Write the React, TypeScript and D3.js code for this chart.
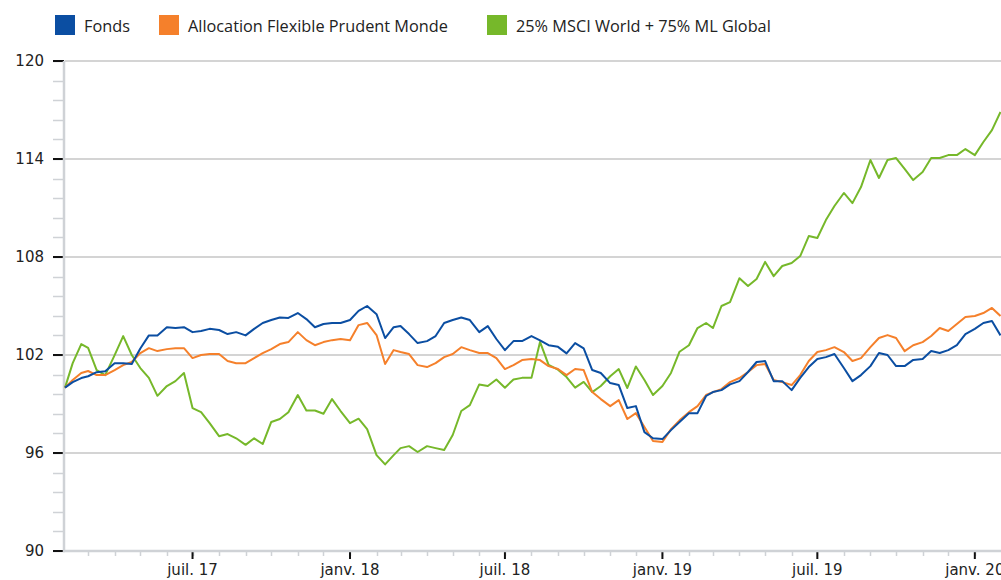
import React, { useEffect, useRef } from 'react';
import * as d3 from 'd3';

// dates sampled ~every 10 days (1st, 11th, 21st of each month)
const dates = [
  '2017-02-02', '2017-02-11', '2017-02-21',
  '2017-03-01', '2017-03-11', '2017-03-21',
  '2017-04-01', '2017-04-11', '2017-04-21',
  '2017-05-01', '2017-05-11', '2017-05-21',
  '2017-06-01', '2017-06-11', '2017-06-21',
  '2017-07-01', '2017-07-11', '2017-07-21',
  '2017-08-01', '2017-08-11', '2017-08-21',
  '2017-09-01', '2017-09-11', '2017-09-21',
  '2017-10-01', '2017-10-11', '2017-10-21',
  '2017-11-01', '2017-11-11', '2017-11-21',
  '2017-12-01', '2017-12-11', '2017-12-21',
  '2018-01-01', '2018-01-11', '2018-01-21',
  '2018-02-01', '2018-02-11', '2018-02-21',
  '2018-03-01', '2018-03-11', '2018-03-21',
  '2018-04-01', '2018-04-11', '2018-04-21',
  '2018-05-01', '2018-05-11', '2018-05-21',
  '2018-06-01', '2018-06-11', '2018-06-21',
  '2018-07-01', '2018-07-11', '2018-07-21',
  '2018-08-01', '2018-08-11', '2018-08-21',
  '2018-09-01', '2018-09-11', '2018-09-21',
  '2018-10-01', '2018-10-11', '2018-10-21',
  '2018-11-01', '2018-11-11', '2018-11-21',
  '2018-12-01', '2018-12-11', '2018-12-21',
  '2019-01-01', '2019-01-11', '2019-01-21',
  '2019-02-01', '2019-02-11', '2019-02-21',
  '2019-03-01', '2019-03-11', '2019-03-21',
  '2019-04-01', '2019-04-11', '2019-04-21',
  '2019-05-01', '2019-05-11', '2019-05-21',
  '2019-06-01', '2019-06-11', '2019-06-21',
  '2019-07-01', '2019-07-11', '2019-07-21',
  '2019-08-01', '2019-08-11', '2019-08-21',
  '2019-09-01', '2019-09-11', '2019-09-21',
  '2019-10-01', '2019-10-11', '2019-10-21',
  '2019-11-01', '2019-11-11', '2019-11-21',
  '2019-12-01', '2019-12-11', '2019-12-21',
  '2020-01-01', '2020-01-11', '2020-01-21', '2020-01-31'
];

const fonds = [
  100.0, 100.34, 100.59,
  100.7, 100.95, 101.0,
  101.5, 101.5, 101.45,
  102.4, 103.2, 103.2,
  103.7, 103.65, 103.7,
  103.4, 103.47, 103.6,
  103.53, 103.28, 103.4,
  103.2, 103.6, 103.96,
  104.14, 104.3, 104.27,
  104.57, 104.2, 103.7,
  103.9, 103.96, 103.96,
  104.14, 104.7, 105.0,
  104.5, 103.04, 103.7,
  103.77, 103.28, 102.73,
  102.85, 103.16, 103.96,
  104.14, 104.3, 104.14,
  103.4, 103.77, 102.98,
  102.3, 102.85, 102.85,
  103.16, 102.9, 102.6,
  102.5, 102.1, 102.73,
  102.4, 101.08, 100.9,
  100.28, 100.16, 98.75,
  98.87, 97.28, 96.9,
  96.85, 97.4, 97.9,
  98.44, 98.44, 99.49,
  99.73, 99.85, 100.2,
  100.4, 100.96, 101.57,
  101.63, 100.4, 100.4,
  99.85, 100.6, 101.26,
  101.75, 101.87, 102.06,
  101.2, 100.4, 100.77,
  101.32, 102.12, 102.0,
  101.32, 101.32, 101.7,
  101.75, 102.24, 102.12,
  102.3, 102.6, 103.28,
  103.6, 103.96, 104.08, 103.2
];

const allocation = [
  100.0, 100.47, 100.9,
  101.02, 100.77, 100.77,
  101.08, 101.38, 101.57,
  102.12, 102.42, 102.24,
  102.36, 102.42, 102.42,
  101.81, 102.0, 102.06,
  102.06, 101.63, 101.5,
  101.5, 101.81, 102.12,
  102.36, 102.67, 102.79,
  103.4, 102.91, 102.6,
  102.79, 102.91, 102.98,
  102.91, 103.83, 103.96,
  103.22, 101.45, 102.3,
  102.18, 102.06, 101.38,
  101.26, 101.5, 101.87,
  102.06, 102.48, 102.3,
  102.12, 102.12, 101.81,
  101.14, 101.38, 101.69,
  101.75, 101.69, 101.32,
  101.14, 100.77, 101.14,
  101.08, 99.73, 99.3,
  98.87, 99.24, 98.08,
  98.44, 97.59, 96.73,
  96.67, 97.46, 98.0,
  98.5, 98.87, 99.55,
  99.73, 99.91, 100.34,
  100.59, 100.96, 101.38,
  101.45, 100.47, 100.34,
  100.16, 100.77, 101.63,
  102.18, 102.3, 102.48,
  102.18, 101.63, 101.81,
  102.48, 103.04, 103.22,
  103.04, 102.24, 102.6,
  102.79, 103.16, 103.65,
  103.47, 103.9, 104.33,
  104.39, 104.57, 104.88, 104.39
];

const benchmark = [
  100.0, 101.5, 102.67,
  102.43, 101.08, 100.77,
  101.99, 103.16, 102.0,
  101.2, 100.6, 99.5,
  100.1, 100.4, 100.9,
  98.75, 98.5, 97.83,
  97.03, 97.16, 96.9,
  96.5, 96.9, 96.55,
  97.9, 98.08, 98.5,
  99.55, 98.6, 98.6,
  98.4, 99.3, 98.57,
  97.83, 98.1, 97.46,
  95.87, 95.3, 95.87,
  96.3, 96.42, 96.06,
  96.42, 96.3, 96.18,
  97.1, 98.57, 98.93,
  100.2, 100.1, 100.5,
  100.0, 100.5, 100.6,
  100.6, 102.8, 101.4,
  101.1, 100.65, 100.0,
  100.35, 99.73, 100.1,
  100.7, 101.14, 99.98,
  101.3, 100.47, 99.55,
  100.1, 100.9, 102.2,
  102.6, 103.65, 103.96,
  103.65, 105.0, 105.24,
  106.7, 106.22, 106.65,
  107.7, 106.83, 107.45,
  107.63, 108.06, 109.28,
  109.16, 110.26, 111.12,
  111.92, 111.3, 112.28,
  113.94, 112.84, 113.94,
  114.06, 113.39, 112.71,
  113.2, 114.06, 114.06,
  114.24, 114.24, 114.61,
  114.24, 115.04, 115.77, 116.88
];

const seriesNames = ['Fonds', 'Allocation Flexible Prudent Monde', '25% MSCI World + 75% ML Global'];
const seriesColors = ['#0b4ea2', '#f5802b', '#76b82a'];
const yTicks = [90, 96, 102, 108, 114, 120];
const xTickDates = ['2017-07-01', '2018-01-01', '2018-07-01', '2019-01-01', '2019-07-01', '2020-01-01'];
const xTickLabels = ['juil. 17', 'janv. 18', 'juil. 18', 'janv. 19', 'juil. 19', 'janv. 20'];

const parseDate = d3.timeParse('%Y-%m-%d');

export default function App() {
  const ref = useRef<SVGSVGElement>(null);

  useEffect(() => {
    const width = 1001;
    const left = 65,
      top = 61,
      bottom = 551;

    const svg = d3.select(ref.current);
    svg.selectAll('*').remove();

    const parsed = dates.map(d => parseDate(d) as Date);

    const x = d3
      .scaleTime()
      .domain([parsed[0], parsed[parsed.length - 1]])
      .range([left, 1000.5]);

    const y = d3.scaleLinear().domain([90, 120]).range([bottom, top]);

    // horizontal grid
    svg
      .append('g')
      .selectAll('line')
      .data(yTicks.filter(t => t !== 90))
      .enter()
      .append('line')
      .attr('x1', left)
      .attr('x2', width)
      .attr('y1', d => y(d))
      .attr('y2', d => y(d))
      .attr('stroke', '#d4d4d4')
      .attr('stroke-width', 2);

    // y minor ticks
    const yMinor = d3.range(0, 26).map(i => 90 + i * 1.2);
    svg
      .append('g')
      .selectAll('line')
      .data(yMinor)
      .enter()
      .append('line')
      .attr('x1', 53)
      .attr('x2', left)
      .attr('y1', d => Math.round(y(d)) + 0.5)
      .attr('y2', d => Math.round(y(d)) + 0.5)
      .attr('stroke', '#cfd2d6')
      .attr('stroke-width', 1.5);

    // y major ticks
    svg
      .append('g')
      .selectAll('line')
      .data(yTicks)
      .enter()
      .append('line')
      .attr('x1', 53)
      .attr('x2', left - 1)
      .attr('y1', d => y(d))
      .attr('y2', d => y(d))
      .attr('stroke', '#111')
      .attr('stroke-width', 2);

    svg
      .append('g')
      .selectAll('text')
      .data(yTicks)
      .enter()
      .append('text')
      .attr('x', 44)
      .attr('y', d => y(d))
      .attr('dy', '0.35em')
      .attr('text-anchor', 'end')
      .style('font-family', 'DejaVu Sans, Verdana, sans-serif')
      .style('font-size', '15px')
      .attr('fill', '#222')
      .text(d => d);

    // x minor ticks (monthly)
    const months = d3.timeMonth.range(parsed[0], parsed[parsed.length - 1]);
    svg
      .append('g')
      .selectAll('line')
      .data(months)
      .enter()
      .append('line')
      .attr('x1', d => Math.round(x(d)) + 0.5)
      .attr('x2', d => Math.round(x(d)) + 0.5)
      .attr('y1', bottom)
      .attr('y2', bottom + 5)
      .attr('stroke', '#cfd2d6')
      .attr('stroke-width', 1.5);

    // x major ticks
    const majors = xTickDates.map(d => parseDate(d) as Date);
    svg
      .append('g')
      .selectAll('line')
      .data(majors)
      .enter()
      .append('line')
      .attr('x1', d => x(d))
      .attr('x2', d => x(d))
      .attr('y1', bottom + 1)
      .attr('y2', bottom + 8)
      .attr('stroke', '#111')
      .attr('stroke-width', 2);

    svg
      .append('g')
      .selectAll('text')
      .data(majors)
      .enter()
      .append('text')
      .attr('x', d => x(d))
      .attr('y', 575)
      .attr('text-anchor', 'middle')
      .style('font-family', 'DejaVu Sans, Verdana, sans-serif')
      .style('font-size', '15px')
      .attr('fill', '#222')
      .text((d, i) => xTickLabels[i]);

    // axis lines
    svg
      .append('line')
      .attr('x1', left - 1)
      .attr('x2', left - 1)
      .attr('y1', top)
      .attr('y2', bottom + 1)
      .attr('stroke', '#cfd2d6')
      .attr('stroke-width', 2.5);

    svg
      .append('line')
      .attr('x1', left - 2)
      .attr('x2', width)
      .attr('y1', bottom)
      .attr('y2', bottom)
      .attr('stroke', '#cfd2d6')
      .attr('stroke-width', 2.5);

    // series lines, benchmark drawn first
    const allSeries = [fonds, allocation, benchmark];
    const line = d3
      .line<number>()
      .x((d, i) => x(parsed[i]))
      .y(d => y(d));

    [2, 1, 0].forEach(k => {
      svg
        .append('path')
        .datum(allSeries[k])
        .attr('d', line)
        .attr('fill', 'none')
        .attr('stroke', seriesColors[k])
        .attr('stroke-width', 2)
        .attr('stroke-linejoin', 'round');
    });

    // legend
    const legendX = [55, 159, 487];
    const legend = svg
      .append('g')
      .selectAll('g')
      .data(seriesNames)
      .enter()
      .append('g')
      .attr('transform', (d, i) => `translate(${legendX[i]}, 15)`);

    legend
      .append('rect')
      .attr('width', 20)
      .attr('height', 20)
      .attr('fill', (d, i) => seriesColors[i]);

    legend
      .append('text')
      .attr('x', 29)
      .attr('y', 17)
      .style('font-family', 'Open Sans, sans-serif')
      .style('font-size', '16.3px')
      .attr('fill', '#222')
      .text(d => d);
  }, []);

  return (
    <svg
      ref={ref}
      width={1001}
      height={580}
      style={{ position: 'absolute', left: 0, top: 0, background: '#fff' }}
    />
  );
}
